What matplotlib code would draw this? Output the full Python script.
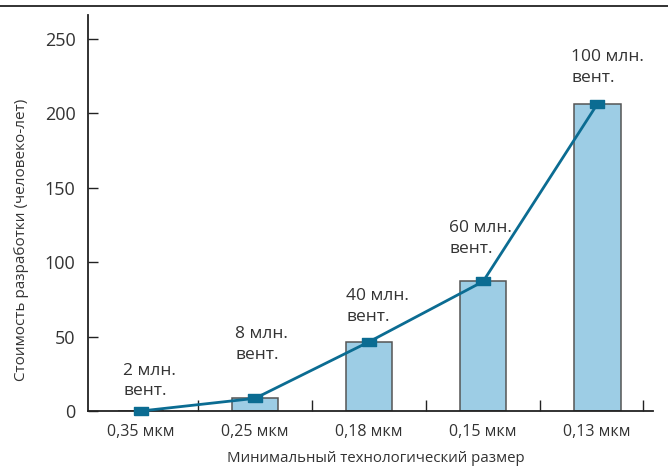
"""Design cost vs. process node: bars with a trend line."""

import matplotlib.pyplot as plt
from matplotlib.lines import Line2D

plt.rcParams["font.family"] = ["Open Sans", "DejaVu Sans"]

nodes = ["0,35 мкм", "0,25 мкм", "0,18 мкм", "0,15 мкм", "0,13 мкм"]
cost = [0, 8.5, 46.5, 87, 206]
gates = ["2 млн.\nвент.", "8 млн.\nвент.", "40 млн.\nвент.", "60 млн.\nвент.", "100 млн.\nвент."]
y_ticks = [0, 50, 100, 150, 200, 250]

# label offsets from each marker, in pixels
label_dx = [-18, -20, -23, -34, -26]
label_dy = [30, 54, 35, 43, 37]

TEXT = "#333333"
BAR = "#9DCDE5"
LINE = "#0B6C92"


def main() -> None:
    fig = plt.figure(figsize=(6.68, 4.75), dpi=100)
    ax = fig.add_axes([88 / 668, 64 / 475, 565 / 668, 396 / 475])

    x = list(range(len(nodes)))
    ax.bar(x, cost, width=0.41, color=BAR, edgecolor="#555555", linewidth=1.1, zorder=2)

    rect = [(-1, -0.6), (1, -0.6), (1, 0.6), (-1, 0.6), (-1, -0.6)]
    ax.plot(x, cost, color=LINE, linewidth=2.0, marker=rect, markersize=10,
            markerfacecolor=LINE, markeredgecolor=LINE, zorder=3, clip_on=False)

    for xi, yi, txt, dx, dy in zip(x, cost, gates, label_dx, label_dy):
        ax.annotate(txt, (xi, yi), xytext=(dx, dy), textcoords="offset pixels",
                    ha="left", va="center", fontsize=12.5, color=TEXT, linespacing=1.4)

    ax.set_xlim(-0.465, 4.49)
    ax.set_ylim(0, 266)
    ax.set_yticks(y_ticks)
    ax.set_xticks(x)
    ax.set_xticklabels(nodes)
    ax.set_xticks([0.5, 1.5, 2.5, 3.5, 4.4], minor=True)

    ax.tick_params(axis="y", direction="in", length=7, width=1.0, pad=9,
                   labelsize=13, labelcolor=TEXT, color="#222222")
    ax.tick_params(axis="x", which="major", length=0, pad=9, labelsize=11.5, labelcolor=TEXT)
    ax.tick_params(axis="x", which="minor", direction="in", length=8, width=1.0, color="#222222")

    for side in ("top", "right"):
        ax.spines[side].set_visible(False)
    for side in ("left", "bottom"):
        ax.spines[side].set_color("#222222")
        ax.spines[side].set_linewidth(1.3)

    fig.text(22 / 668, 1 - 240 / 475, "Стоимость разработки (человеко-лет)",
             rotation=90, ha="center", va="center", fontsize=11, color=TEXT)
    fig.text(376 / 668, 1 - 458 / 475, "Минимальный технологический размер",
             ha="center", va="center", fontsize=10.8, color=TEXT)

    fig.add_artist(Line2D([0, 1], [1 - 6 / 475] * 2, color="#222222", linewidth=1.3,
                          transform=fig.transFigure))

    fig.savefig("out.png", dpi=100)
    plt.close(fig)


if __name__ == "__main__":
    main()
